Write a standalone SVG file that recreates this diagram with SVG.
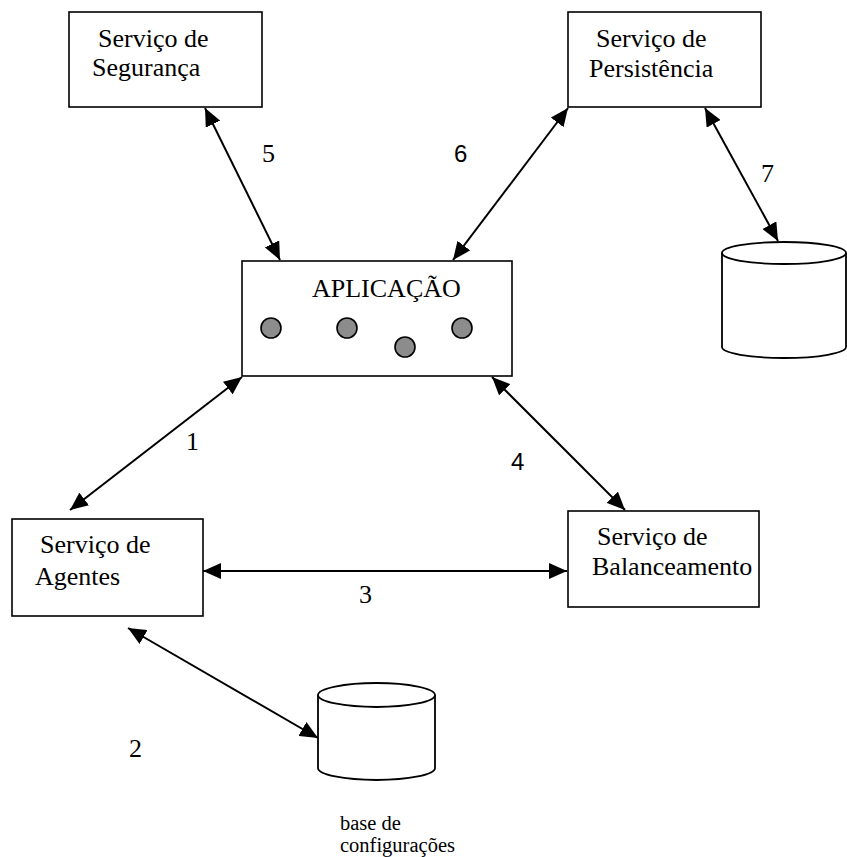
<svg xmlns="http://www.w3.org/2000/svg" width="847" height="857" viewBox="0 0 847 857">
  <style>
    .box { fill: #ffffff; stroke: #000000; stroke-width: 1.6; }
    .lbl { font-family: "Liberation Serif", "Times New Roman", serif; font-size: 26px; fill: #000000; }
    .num { font-family: "Liberation Serif", "Times New Roman", serif; font-size: 26px; fill: #000000; }
    .nums { font-family: "Liberation Sans", Arial, sans-serif; font-size: 24px; fill: #000000; }
    .small { font-family: "Liberation Serif", "Times New Roman", serif; font-size: 20.5px; fill: #000000; }
    .comp { fill: #8c8c8c; stroke: #000000; stroke-width: 1.6; }
    .db { fill: #ffffff; stroke: #000000; stroke-width: 1.8; }
    .link { stroke: #000000; stroke-width: 2; fill: none; marker-start: url(#arrow); marker-end: url(#arrow); }
  </style>
  <defs>
    <marker id="arrow" viewBox="0 0 18 16" refX="18" refY="8" markerWidth="18" markerHeight="16" markerUnits="userSpaceOnUse" orient="auto-start-reverse">
      <path d="M0,0 L18,8 L0,16 z" fill="#000000"/>
    </marker>
  </defs>
  <rect width="847" height="857" fill="#ffffff"/>

  <!-- services -->
  <g id="seguranca">
    <rect class="box" x="69" y="12" width="193" height="95"/>
    <text class="lbl" x="98" y="47">Serviço de</text>
    <text class="lbl" x="92" y="76">Segurança</text>
  </g>
  <g id="persistencia">
    <rect class="box" x="568" y="12" width="193" height="95"/>
    <text class="lbl" x="596" y="47">Serviço de</text>
    <text class="lbl" x="589" y="77">Persistência</text>
  </g>
  <g id="aplicacao">
    <rect class="box" x="242" y="261" width="270" height="115"/>
    <text class="lbl" x="312" y="297">APLICAÇÃO</text>
    <circle class="comp" cx="271" cy="328" r="10"/>
    <circle class="comp" cx="347" cy="328" r="10"/>
    <circle class="comp" cx="405" cy="347" r="10"/>
    <circle class="comp" cx="462" cy="328" r="10"/>
  </g>
  <g id="agentes">
    <rect class="box" x="12" y="519" width="191" height="97"/>
    <text class="lbl" x="40" y="553">Serviço de</text>
    <text class="lbl" x="35" y="585">Agentes</text>
  </g>
  <g id="balanceamento">
    <rect class="box" x="568" y="511" width="191" height="96"/>
    <text class="lbl" x="597" y="545">Serviço de</text>
    <text class="lbl" x="592" y="575">Balanceamento</text>
  </g>

  <!-- storage -->
  <g id="banco-persistencia">
    <path class="db" d="M722,253 L722,347 A62,11 0 0 0 846,347 L846,253"/>
    <ellipse class="db" cx="784" cy="253" rx="62" ry="11"/>
  </g>
  <g id="base-configuracoes">
    <path class="db" d="M318,695 L318,768 A58.5,12 0 0 0 435,768 L435,695"/>
    <ellipse class="db" cx="376.5" cy="695" rx="58.5" ry="12"/>
    <text class="small" x="340" y="830">base de</text>
    <text class="small" x="340" y="852">configurações</text>
  </g>

  <!-- connectors -->
  <g id="connectors">
    <line class="link" x1="205" y1="108" x2="280" y2="260"/>
    <line class="link" x1="568" y1="108" x2="453" y2="260"/>
    <line class="link" x1="705" y1="108" x2="778" y2="241"/>
    <line class="link" x1="242" y1="377" x2="70" y2="510"/>
    <line class="link" x1="492" y1="377" x2="625" y2="510"/>
    <line class="link" x1="203" y1="571" x2="567" y2="571"/>
    <line class="link" x1="128" y1="628" x2="318" y2="738"/>
    <text class="num" x="262" y="162">5</text>
    <text class="nums" x="454" y="162">6</text>
    <text class="num" x="761" y="182">7</text>
    <text class="num" x="186" y="450">1</text>
    <text class="nums" x="511" y="470">4</text>
    <text class="num" x="359" y="603">3</text>
    <text class="num" x="129" y="757">2</text>
  </g>
</svg>
